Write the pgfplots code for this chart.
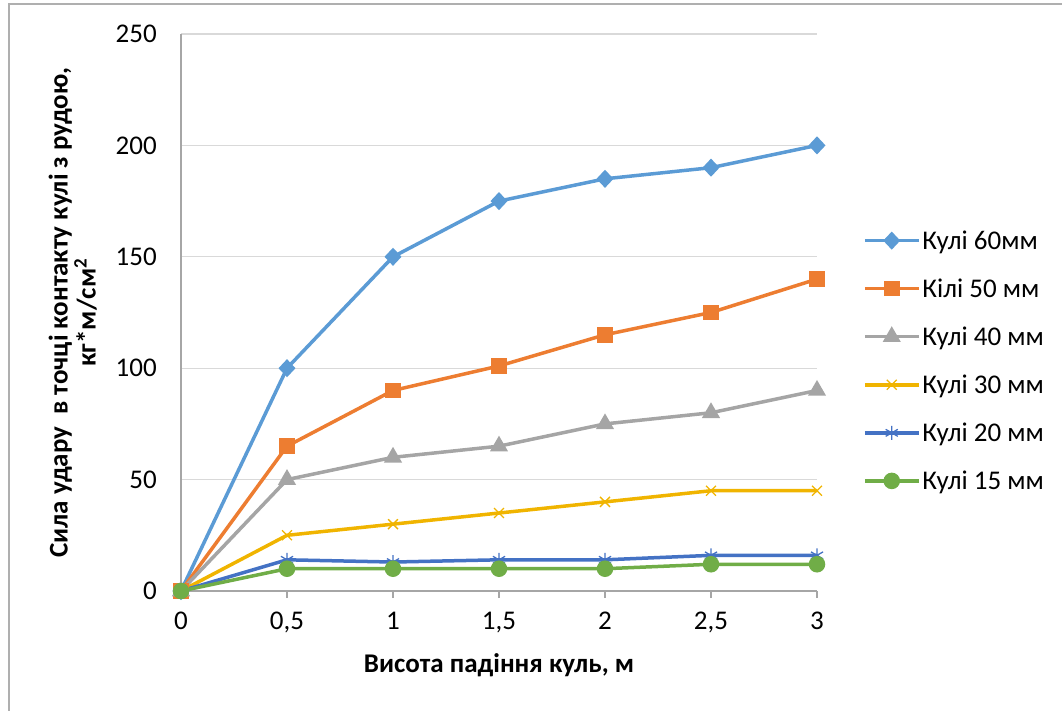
\documentclass[border=0pt]{standalone}
\usepackage{fontspec}
\setmainfont{Carlito}
\usepackage{pgfplots}
\pgfplotsset{compat=1.18}
\definecolor{c1}{HTML}{5B9BD5}
\definecolor{c2}{HTML}{ED7D31}
\definecolor{c3}{HTML}{A5A5A5}
\definecolor{c4}{HTML}{F0B400}
\definecolor{c5}{HTML}{4472C4}
\definecolor{c6}{HTML}{70AD47}
\definecolor{gridc}{HTML}{D9D9D9}
\definecolor{axc}{HTML}{A6A6A6}
\begin{document}
\begin{tikzpicture}
\useasboundingbox (0,0) rectangle (1062bp,711bp);
\draw[color=axc!90, line width=1.5bp] (9bp,0) -- (9bp,707bp) -- (1062bp,707bp);
\begin{axis}[
  at={(181bp,120bp)}, anchor=south west,
  width=636bp, height=557bp, scale only axis,
  xmin=0, xmax=3, ymin=0, ymax=250,
  xtick={0,0.5,1,1.5,2,2.5,3},
  xticklabels={0,{0,5},1,{1,5},2,{2,5},3},
  ytick={0,50,100,150,200,250},
  axis x line*=bottom, axis y line*=left,
  axis line style={color=axc, line width=1.3bp, -},
  ymajorgrids, major grid style={color=gridc, line width=1.3bp},
  x tick style={color=axc, line width=1.3bp},
  major tick length=7bp, tick align=outside,
  y tick style={draw=none},
  font=\fontsize{27bp}{32bp}\selectfont,
  /pgf/number format/assume math mode=true,
  yticklabel style={anchor=east, inner sep=0pt, xshift=-17bp},
  xticklabel style={anchor=north, inner sep=0pt, yshift=-14bp},
  xlabel={\textbf{Висота падіння куль, м}},
  xlabel style={at={(axis description cs:0.5,-0.133)}, anchor=center},
  ylabel={\textbf{Сила удару\ \ в точці контакту кулі з рудою,}\\\textbf{кг*м/см\textsuperscript{2}}},
  ylabel style={at={(axis description cs:-0.17,0.5)}, anchor=center, align=center, font=\fontsize{27bp}{28bp}\selectfont},
  legend style={at={(axis description cs:1.072,0.651)}, anchor=north west, draw=none, fill=none,
    row sep=24bp, inner sep=0pt, font=\fontsize{27bp}{32bp}\selectfont},
  legend cell align=left,
  legend image code/.code={\draw[mark repeat=2,mark phase=2] plot coordinates {(0bp,0bp) (27bp,0bp) (54bp,0bp)};},
  clip=false,
]
\addplot[c1, line width=3.5bp, mark=diamond*, mark size=6.5bp, mark options={solid, xscale=1.25}] coordinates {(0,0) (0.5,100) (1,150) (1.5,175) (2,185) (2.5,190) (3,200)};
\addlegendentry{Кулі 60мм}
\addplot[c2, line width=3.5bp, mark=square*, mark size=6bp, mark options={solid}] coordinates {(0,0) (0.5,65) (1,90) (1.5,101) (2,115) (2.5,125) (3,140)};
\addlegendentry{Кілі 50 мм}
\addplot[c3, line width=3.5bp, mark=triangle*, mark size=7bp, mark options={solid}] coordinates {(0,0) (0.5,50) (1,60) (1.5,65) (2,75) (2.5,80) (3,90)};
\addlegendentry{Кулі 40 мм}
\addplot[c4, line width=3.5bp, mark=x, mark size=7bp, mark options={solid, line width=1.3bp}] coordinates {(0,0) (0.5,25) (1,30) (1.5,35) (2,40) (2.5,45) (3,45)};
\addlegendentry{Кулі 30 мм}
\addplot[c5, line width=3.5bp, mark=asterisk, mark size=7bp, mark options={solid, line width=1.3bp}] coordinates {(0,0) (0.5,14) (1,13) (1.5,14) (2,14) (2.5,16) (3,16)};
\addlegendentry{Кулі 20 мм}
\addplot[c6, line width=3.5bp, mark=*, mark size=6.5bp, mark options={solid}] coordinates {(0,0) (0.5,10) (1,10) (1.5,10) (2,10) (2.5,12) (3,12)};
\addlegendentry{Кулі 15 мм}
\end{axis}
\end{tikzpicture}
\end{document}
